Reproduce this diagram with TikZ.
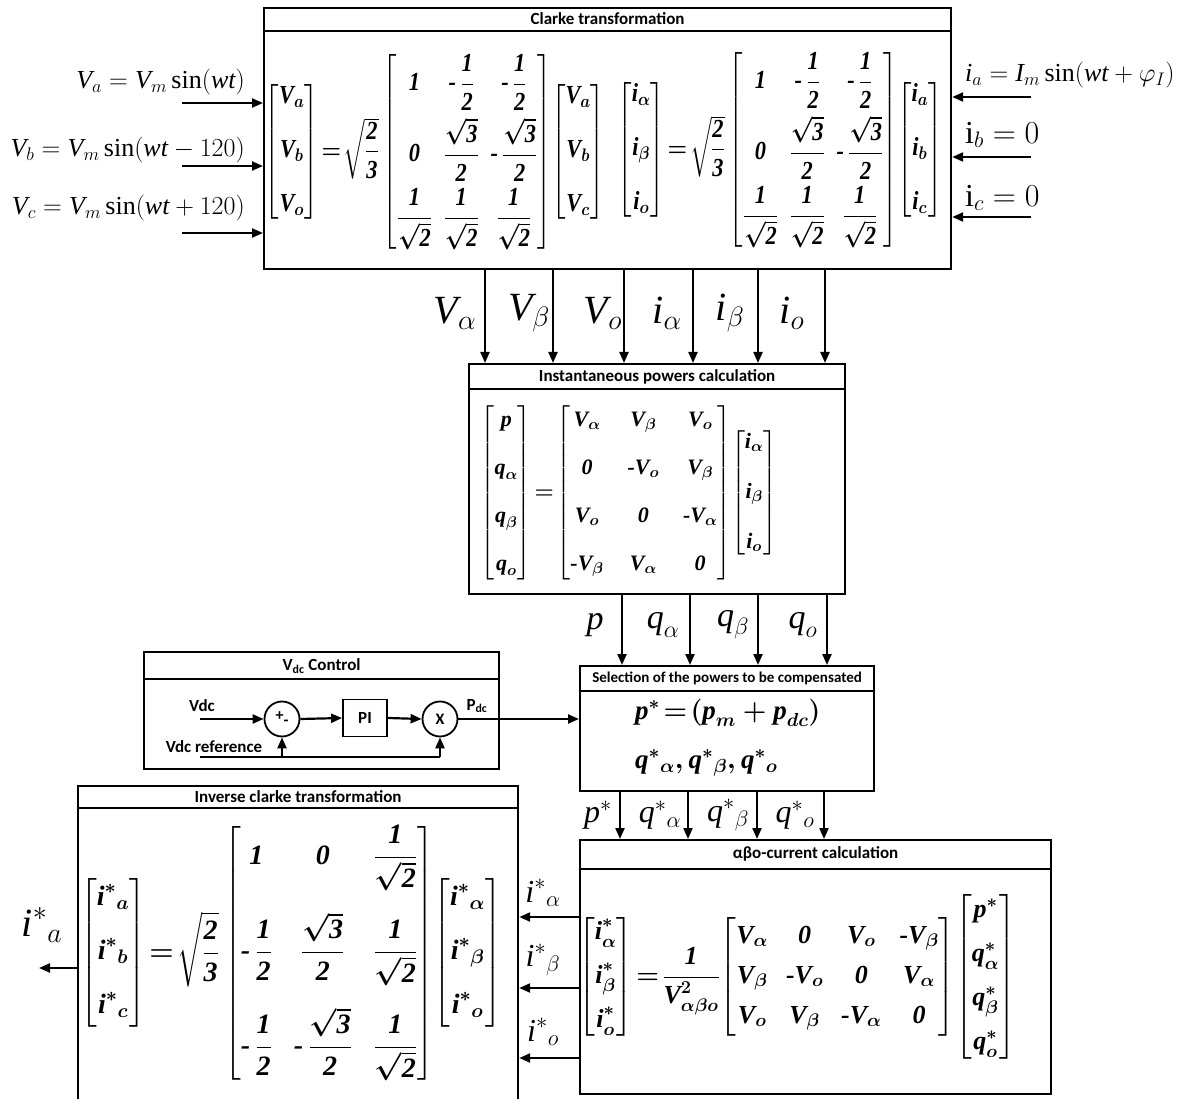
\RequirePackage{fix-cm}
\documentclass[tikz,border=0pt]{standalone}
\usepackage{amsmath}
\usepackage{fontspec}
\setmainfont{Liberation Serif}
\newfontfamily\titlefont{Carlito}
\usetikzlibrary{arrows.meta,positioning,calc}
\newcommand{\mnum}[1]{\textit{#1}}

\begin{document}
\begin{tikzpicture}[x=1pt, y=-1pt, every node/.style={inner sep=0pt}, box/.style={draw, line width=2.2pt, anchor=north west}, bar/.style={line width=2.2pt}, head/.style={font=\titlefont\bfseries\fontsize{17}{19}\selectfont}, sig/.style={line width=2.2pt, -{Triangle[length=11pt,width=9pt]}}, wire/.style={line width=2.2pt}, lbl/.style={font=\fontsize{40}{42}\selectfont}, inlbl/.style={font=\fontsize{26}{30}\selectfont}, ctl/.style={font=\titlefont\bfseries\fontsize{17}{19}\selectfont}, op/.style={draw, circle, line width=1.8pt, minimum size=35pt, font=\titlefont\bfseries\fontsize{16}{18}\selectfont}, mat/.style={font=\bfseries\boldmath\fontsize{26}{30}\selectfont}]
\fill[white] (0,0) rectangle (1184,1099);
\useasboundingbox (0,0) rectangle (1184,1099);

\node[box, minimum width=687pt, minimum height=261pt] (clarke) at (263,7) {};
\draw[bar] ([yshift=-24pt]clarke.north west) -- ([yshift=-24pt]clarke.north east);
\node[head] at ([yshift=-12pt]clarke.north) {Clarke transformation};
\node[mat] (eqv) at (435,152) {\scalebox{0.86}[1]{$\arraycolsep=2pt\begin{bmatrix} \mnum{V}_{a}\\[24pt] \mnum{V}_{b}\\[24pt] \mnum{V}_{o}\end{bmatrix}\!=\!\sqrt{\dfrac{\mnum2}{\mnum3}}\arraycolsep=7pt\begin{bmatrix} \mnum1 & \mnum{-}\,\dfrac{\mnum1}{\mnum2} & \mnum{-}\,\dfrac{\mnum1}{\mnum2}\\[18pt] \mnum0 & \dfrac{\sqrt{\mnum3}}{\mnum2} & \mnum{-}\,\dfrac{\sqrt{\mnum3}}{\mnum2}\\[18pt] \dfrac{\mnum1}{\sqrt{\mnum2}} & \dfrac{\mnum1}{\sqrt{\mnum2}} & \dfrac{\mnum1}{\sqrt{\mnum2}}\end{bmatrix}\!\arraycolsep=2pt\begin{bmatrix} \mnum{V}_{a}\\[24pt] \mnum{V}_{b}\\[24pt] \mnum{V}_{c}\end{bmatrix}$}};
\node[mat] (eqi) at (780,150) {\scalebox{0.86}[1]{$\arraycolsep=2pt\begin{bmatrix} \mnum{i}_{\alpha}\\[24pt] \mnum{i}_{\beta}\\[24pt] \mnum{i}_{o}\end{bmatrix}\!=\!\sqrt{\dfrac{\mnum2}{\mnum3}}\arraycolsep=7pt\begin{bmatrix} \mnum1 & \mnum{-}\,\dfrac{\mnum1}{\mnum2} & \mnum{-}\,\dfrac{\mnum1}{\mnum2}\\[18pt] \mnum0 & \dfrac{\sqrt{\mnum3}}{\mnum2} & \mnum{-}\,\dfrac{\sqrt{\mnum3}}{\mnum2}\\[18pt] \dfrac{\mnum1}{\sqrt{\mnum2}} & \dfrac{\mnum1}{\sqrt{\mnum2}} & \dfrac{\mnum1}{\sqrt{\mnum2}}\end{bmatrix}\!\arraycolsep=2pt\begin{bmatrix} \mnum{i}_{a}\\[24pt] \mnum{i}_{b}\\[24pt] \mnum{i}_{c}\end{bmatrix}$}};

\node[inlbl, anchor=east] (lva) at (245,82) {$\mnum{V}_{a}=\mnum{V}_{m}\sin(\mnum{wt})$};
\node[inlbl, anchor=east] (lvb) at (245,150) {$\mnum{V}_{b}=\mnum{V}_{m}\sin(\mnum{wt}-120)$};
\node[inlbl, anchor=east] (lvc) at (245,208) {$\mnum{V}_{c}=\mnum{V}_{m}\sin(\mnum{wt}+120)$};
\node[inlbl, anchor=west] (lia) at (965,75) {$\mnum{i}_{a}=\mnum{I}_{m}\sin(\mnum{wt}+\varphi_{I})$};
\node[inlbl, font=\fontsize{32}{34}\selectfont, anchor=west] (lib) at (965,135) {$\mathrm{i}_{b}=0$};
\node[inlbl, font=\fontsize{32}{34}\selectfont, anchor=west] (lic) at (965,198) {$\mathrm{i}_{c}=0$};
\foreach \y in {103,166,233} {
  \coordinate (src) at (182,\y);
  \draw[sig] (src) -- (src -| clarke.west);
}
\foreach \y in {97,157,217} {
  \coordinate (src) at (1031,\y);
  \draw[sig] (src) -- (src -| clarke.east);
}

\node[box, minimum width=376pt, minimum height=230pt] (inst) at (468,363) {};
\draw[bar] ([yshift=-26pt]inst.north west) -- ([yshift=-26pt]inst.north east);
\node[head] at ([yshift=-14pt]inst.north) {Instantaneous powers calculation};
\node[mat, font=\bfseries\boldmath\fontsize{22}{26}\selectfont] (eqp) at (629,493) {$\arraycolsep=6pt\begin{bmatrix} \mnum{p}\\[22pt] \mnum{q}_{\alpha}\\[22pt] \mnum{q}_{\beta}\\[22pt] \mnum{q}_{o}\end{bmatrix}\!=\!\arraycolsep=12pt\begin{bmatrix} \mnum{V}_{\alpha} & \mnum{V}_{\beta} & \mnum{V}_{o}\\[22pt] \mnum0 & \mnum{-V}_{o} & \mnum{V}_{\beta}\\[22pt] \mnum{V}_{o} & \mnum0 & \mnum{-V}_{\alpha}\\[22pt] \mnum{-V}_{\beta} & \mnum{V}_{\alpha} & \mnum0\end{bmatrix}\!\arraycolsep=6pt\begin{bmatrix} \mnum{i}_{\alpha}\\[24pt] \mnum{i}_{\beta}\\[24pt] \mnum{i}_{o}\end{bmatrix}$};
\foreach \x in {485,553,624,693,758,825}
  \draw[sig] (clarke.south -| \x,0) -- (inst.north -| \x,0);
\node[lbl] (sva) at (455,313) {$\mnum{V}_{\alpha}$};
\node[lbl] (svb) at (529,313) {$\mnum{V}_{\beta}$};
\node[lbl] (svo) at (603,313) {$\mnum{V}_{o}$};
\node[lbl] (sia) at (667,313) {$\mnum{i}_{\alpha}$};
\node[lbl] (sib) at (730,313) {$\mnum{i}_{\beta}$};
\node[lbl] (sio) at (792,313) {$\mnum{i}_{o}$};

\node[box, minimum width=294pt, minimum height=125pt] (sel) at (579,665) {};
\draw[bar] ([yshift=-26pt]sel.north west) -- ([yshift=-26pt]sel.north east);
\node[head, font=\titlefont\bfseries\fontsize{15}{17}\selectfont] at ([yshift=-13pt]sel.north) {Selection of the powers to be compensated};
\node[mat, font=\bfseries\boldmath\fontsize{27}{30}\selectfont, anchor=west] (eqs1) at (635,713) {$\mnum{p}^{*}\!=\!(\mnum{p}_{m}+\mnum{p}_{dc})$};
\node[mat, font=\bfseries\boldmath\fontsize{27}{30}\selectfont, anchor=west] (eqs2) at (635,763) {$\mnum{q}^{*}{}_{\alpha},\mnum{q}^{*}{}_{\beta},\mnum{q}^{*}{}_{o}$};
\foreach \x in {622,690,758,827}
  \draw[sig] (inst.south -| \x,0) -- (sel.north -| \x,0);
\node[lbl, font=\fontsize{34}{36}\selectfont] (sp) at (595,625) {$\mnum{p}$};
\node[lbl, font=\fontsize{34}{36}\selectfont] (sqa) at (663,625) {$\mnum{q}_{\alpha}$};
\node[lbl, font=\fontsize{34}{36}\selectfont] (sqb) at (733,625) {$\mnum{q}_{\beta}$};
\node[lbl, font=\fontsize{34}{36}\selectfont] (sqo) at (803,625) {$\mnum{q}_{o}$};

\node[box, minimum width=355pt, minimum height=117pt] (vdc) at (143,651) {};
\draw[bar] ([yshift=-28pt]vdc.north west) -- ([yshift=-28pt]vdc.north east);
\node[head] at ([yshift=-15pt]vdc.north) {V\textsubscript{dc} Control};
\node[op] (sum) at (282,719) {+\raisebox{-5pt}{-}};
\node[draw, line width=1.8pt, minimum width=44pt, minimum height=37pt, ctl] (pi) at (365,718) {PI};
\node[op] (mul) at (440,719) {X};
\node[ctl] (lvdc) at (202,706) {Vdc};
\node[ctl] (lref) at (214,747) {Vdc reference};
\node[ctl] (lpdc) at (477,706) {P\textsubscript{dc}};
\coordinate (vin) at (200,719);
\coordinate (vref) at (200,757);
\draw[sig] (vin) -- (sum.west);
\draw[sig] (sum.east) -- (pi.west);
\draw[sig] (pi.east) -- (mul.west);
\draw[sig] (mul.east) -- (mul.east -| sel.west);
\draw[wire] (vref) -- (vref -| mul.south);
\draw[sig] (vref -| mul.south) -- (mul.south);
\draw[sig] (vref -| sum.south) -- (sum.south);

\node[box, minimum width=471pt, minimum height=254pt] (cur) at (579,839) {};
\draw[bar] ([yshift=-30pt]cur.north west) -- ([yshift=-30pt]cur.north east);
\node[head] at ([yshift=-15pt]cur.north) {αβo-current calculation};
\node[mat] (eqc) at (797,977) {$\arraycolsep=3pt\begin{bmatrix} \mnum{i}^{*}_{\alpha}\\[14pt] \mnum{i}^{*}_{\beta}\\[14pt] \mnum{i}^{*}_{o}\end{bmatrix}\!=\!\dfrac{\mnum1}{\mnum{V}^{2}_{\alpha\beta o}}\!\arraycolsep=9pt\begin{bmatrix} \mnum{V}_{\alpha} & \mnum0 & \mnum{V}_{o} & \mnum{-V}_{\beta}\\[10pt] \mnum{V}_{\beta} & \mnum{-V}_{o} & \mnum0 & \mnum{V}_{\alpha}\\[10pt] \mnum{V}_{o} & \mnum{V}_{\beta} & \mnum{-V}_{\alpha} & \mnum0\end{bmatrix}\!\arraycolsep=3pt\begin{bmatrix} \mnum{p}^{*}\\[14pt] \mnum{q}^{*}_{\alpha}\\[14pt] \mnum{q}^{*}_{\beta}\\[14pt] \mnum{q}^{*}_{o}\end{bmatrix}$};
\foreach \x in {620,688,757,824}
  \draw[sig] (sel.south -| \x,0) -- (cur.north -| \x,0);
\node[lbl, font=\fontsize{32}{34}\selectfont] (spp) at (598,815) {$\mnum{p}^{*}$};
\node[lbl, font=\fontsize{32}{34}\selectfont] (sqpa) at (660,815) {$\mnum{q}^{*}{}_{\alpha}$};
\node[lbl, font=\fontsize{32}{34}\selectfont] (sqpb) at (728,815) {$\mnum{q}^{*}{}_{\beta}$};
\node[lbl, font=\fontsize{32}{34}\selectfont] (sqpo) at (795,815) {$\mnum{q}^{*}{}_{o}$};

\node[box, minimum width=440pt, minimum height=320pt] (inv) at (77,785) {};
\draw[bar] ([yshift=-23pt]inv.north west) -- ([yshift=-23pt]inv.north east);
\node[head] at ([yshift=-12pt]inv.north) {Inverse clarke transformation};
\node[mat, font=\bfseries\boldmath\fontsize{28}{32}\selectfont] (eqr) at (291,953) {$\arraycolsep=4pt\begin{bmatrix} \mnum{i}^{*}{}_{a}\\[22pt] \mnum{i}^{*}{}_{b}\\[22pt] \mnum{i}^{*}{}_{c}\end{bmatrix}\!=\!\sqrt{\dfrac{\mnum2}{\mnum3}}\arraycolsep=11pt\begin{bmatrix} \mnum1 & \mnum0 & \dfrac{\mnum1}{\sqrt{\mnum2}}\\[38pt] \mnum{-}\,\dfrac{\mnum1}{\mnum2} & \dfrac{\sqrt{\mnum3}}{\mnum2} & \dfrac{\mnum1}{\sqrt{\mnum2}}\\[38pt] \mnum{-}\,\dfrac{\mnum1}{\mnum2} & \mnum{-}\,\dfrac{\sqrt{\mnum3}}{\mnum2} & \dfrac{\mnum1}{\sqrt{\mnum2}}\end{bmatrix}\!\arraycolsep=4pt\begin{bmatrix} \mnum{i}^{*}{}_{\alpha}\\[22pt] \mnum{i}^{*}{}_{\beta}\\[22pt] \mnum{i}^{*}{}_{o}\end{bmatrix}$};
\foreach \y in {917,988,1058}
  \draw[sig] (cur.west |- 0,\y) -- (inv.east |- 0,\y);
\node[lbl, font=\fontsize{32}{34}\selectfont] (sipa) at (543,893) {$\mnum{i}^{*}{}_{\alpha}$};
\node[lbl, font=\fontsize{32}{34}\selectfont] (sipb) at (543,960) {$\mnum{i}^{*}{}_{\beta}$};
\node[lbl, font=\fontsize{32}{34}\selectfont] (sipo) at (543,1032) {$\mnum{i}^{*}{}_{o}$};
\coordinate (out) at (39,968);
\draw[sig] (inv.west |- out) -- (out);
\node[lbl, font=\fontsize{40}{42}\selectfont] (sout) at (42,925) {$\mnum{i}^{*}{}_{a}$};
\end{tikzpicture}
\end{document}
